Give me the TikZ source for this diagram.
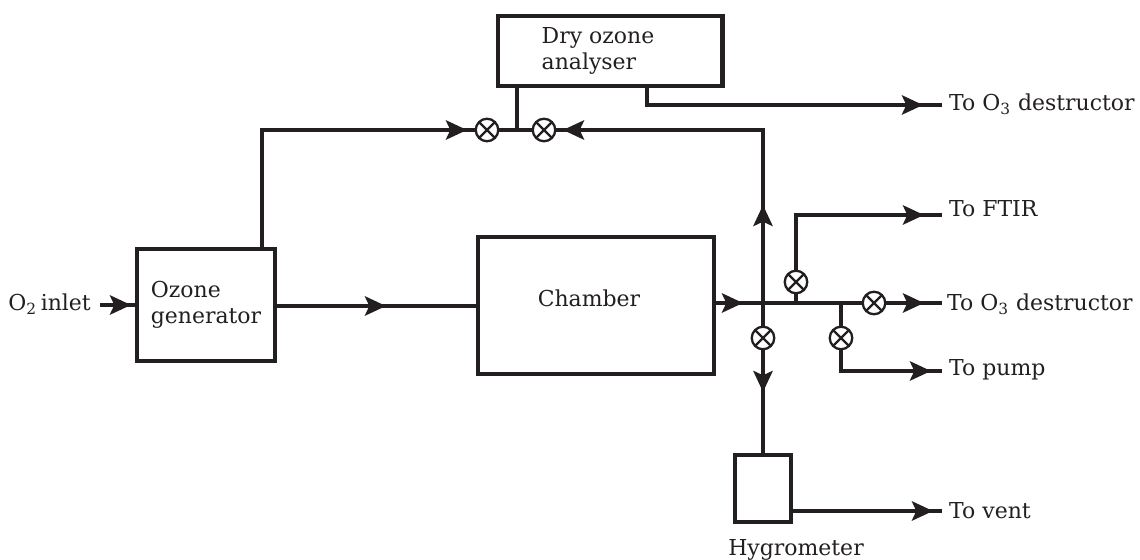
\documentclass[tikz,border=0pt]{standalone}
\usepackage{fontspec}
\setmainfont{DejaVu Serif}
\usetikzlibrary{arrows.meta}

\definecolor{ink}{HTML}{231F20}
\tikzset{
	pipe/.style={draw=ink, line width=2pt},
	flow/.style={pipe, -{Stealth[length=12pt, width=11pt, inset=2.5pt]}},
	unit/.style={draw=ink, line width=2.3pt, rectangle, minimum width=#1},
	valve/.style={circle, draw=ink, fill=white, line width=1.3pt, inner sep=0pt, minimum size=0.45cm,
		path picture={
			\draw[ink, line width=1.3pt] (path picture bounding box.north west) -- (path picture bounding box.south east);
			\draw[ink, line width=1.3pt] (path picture bounding box.north east) -- (path picture bounding box.south west);
		}},
	lbl/.style={text=ink, font=\fontsize{12.5}{15}\selectfont, align=left}
}

\begin{document}
\begin{tikzpicture}[x=0.02cm, y=-0.02cm]
	\useasboundingbox (0,0) rectangle (1140,560);

	% pipe ends and corners
	\coordinate (in) at (100,305);
	\coordinate (intip) at (131,305);
	\coordinate (gentip) at (386,306);
	\coordinate (gentop) at (262,130);
	\coordinate (ltip) at (467,130);
	\coordinate (rtip) at (563,130);
	\coordinate (corner) at (763,130);
	\coordinate (cross) at (763,303);
	\coordinate (uptip) at (763,205);
	\coordinate (downtip) at (763,392);
	\coordinate (chamtip) at (743,303);
	\coordinate (ftirj) at (796,303);
	\coordinate (pumpj) at (841,303);
	\coordinate (ftirc) at (796,215);
	\coordinate (pumpc) at (841,371);
	\coordinate (destc) at (647,105);
	\coordinate (destend) at (942,105);
	\coordinate (destendb) at (942,303);
	\coordinate (ftirend) at (942,215);
	\coordinate (pumpend) at (942,371);
	\coordinate (ventend) at (942,511);
	\coordinate (anastem) at (517,130);

	% boxes
	\node[unit=2.76cm, minimum height=2.24cm] (generator) at (206,305) {};
	\node[unit=4.72cm, minimum height=2.74cm] (chamber) at (596,305.5) {};
	\node[unit=4.5cm, minimum height=1.40cm] (analyser) at (610,51) {};
	\node[unit=1.12cm, minimum height=1.34cm] (hygrometer) at (763,488.5) {};

	% left part
	\draw[pipe] (in) -- (generator.west |- in);
	\draw[flow] (in) -- (intip);
	\draw[pipe] (generator.east |- gentip) -- (chamber.west |- gentip);
	\draw[flow] (generator.east |- gentip) -- (gentip);
	\draw[pipe] (generator.north -| gentop) -- (gentop) -- (rtip);
	\draw[flow] (gentop) -- (ltip);
	\draw[pipe] (analyser.south -| anastem) -- (anastem);

	% return from the crossing
	\draw[pipe] (cross) -- (corner) -- (rtip);
	\draw[flow] (cross) -- (uptip);
	\draw[flow] (corner) -- (rtip);

	% analyser outlet
	\draw[pipe] (analyser.south -| destc) -- (destc) -- (destend);
	\draw[flow] (destc) -- (923,105);

	% right part
	\draw[pipe] (chamber.east |- chamtip) -- (destendb);
	\draw[flow] (chamber.east |- chamtip) -- (chamtip);
	\draw[flow] (pumpj) -- (924,303);
	\draw[pipe] (ftirj) -- (ftirc) -- (ftirend);
	\draw[flow] (ftirc) -- (924,215);
	\draw[pipe] (pumpj) -- (pumpc) -- (pumpend);
	\draw[flow] (pumpc) -- (931,371);

	% hygrometer branch
	\draw[pipe] (cross) -- (hygrometer.north);
	\draw[flow] (cross) -- (downtip);
	\draw[pipe] (hygrometer.east |- ventend) -- (ventend);
	\draw[flow] (hygrometer.east |- ventend) -- (933,511);

	% valves
	\node[valve] (vleft) at (487,130) {};
	\node[valve] (vright) at (544,130) {};
	\node[valve] (vdown) at (763,338) {};
	\node[valve] (vftir) at (796,282) {};
	\node[valve] (vout) at (874,303) {};
	\node[valve] (vpump) at (841,338) {};

	% box texts
	\node[lbl] (generatortext) at (206,305) {Ozone\\generator};
	\node[lbl] (chambertext) at (589,298) {Chamber};
	\node[lbl] (analysertext) at (598,51) {Dry ozone\\analyser};
	\node[lbl] (hygrometertext) at (796,550) {Hygrometer};

	% outer labels
	\node[lbl, anchor=east] (inlet) at (97,304) {O\textsubscript{2}\,inlet};
	\node[lbl, anchor=west] (desta) at (943,104) {To O\textsubscript{3} destructor};
	\node[lbl, anchor=west] (ftir) at (943,209) {To FTIR};
	\node[lbl, anchor=west] (destb) at (941,304) {To O\textsubscript{3} destructor};
	\node[lbl, anchor=west] (pump) at (943,370) {To pump};
	\node[lbl, anchor=west] (vent) at (943,511) {To vent};
\end{tikzpicture}
\end{document}
